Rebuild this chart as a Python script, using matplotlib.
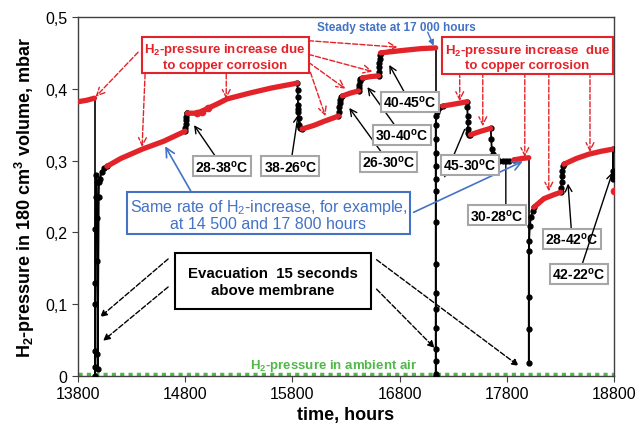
#%% imports

import numpy as np
import matplotlib
matplotlib.use('Agg')
import matplotlib.pyplot as plt

#%% data (time in hours, H2-pressure in mbar)

nan = np.nan

# red parts: slow H2 increase from copper corrosion
red_t = [13800, 13880, 13955, nan,
         14070, 14200, 14400, 14600, 14800, nan,
         14820, 14912, 15000, 15100, 15193, 15400, 15600, 15847, nan,
         15890, 16000, 16100, 16230, nan,
         16267, 16340, 16417, nan,
         16454, 16530, 16604, nan,
         16622, 16800, 17000, 17137, nan,
         17202, 17320, 17430, nan,
         17460, 17560, 17650, nan,
         17865, 17940, 18005, nan,
         18053, 18146, 18230, 18305, nan,
         18333, 18450, 18566, 18680, 18790]
red_p = [0.382, 0.384, 0.387, nan,
         0.292, 0.303, 0.316, 0.327, 0.341, nan,
         0.366, 0.366, 0.372, 0.379, 0.386, 0.394, 0.401, 0.408, nan,
         0.344, 0.349, 0.355, 0.362, nan,
         0.390, 0.394, 0.397, nan,
         0.415, 0.417, 0.418, nan,
         0.450, 0.453, 0.456, 0.457, nan,
         0.376, 0.379, 0.382, nan,
         0.336, 0.341, 0.345, nan,
         0.301, 0.303, 0.304, nan,
         0.235, 0.247, 0.252, 0.256, nan,
         0.295, 0.303, 0.309, 0.313, 0.316]

# single red readings (after 14 800 h and at the right edge)
red_dot_t = [14912, 14960, 15010, 18800]
red_dot_p = [0.366, 0.368, 0.373, 0.257]

# black parts: evacuations and temperature changes
black_t = [13958, 13958, 13960, 13960, 13962, 13962, 13964, 13966,
           13976, 13978, 13980, 13982, 13984, 13994, 13996, 14005, 14020, 14045, 14070, nan,
           14800, 14803, 14806, 14809, 14812, 14815, 14820, nan,
           15847, 15849, 15851, 15853, 15855, 15857, 15859, 15862, 15870, 15890, nan,
           16230, 16233, 16236, 16240, 16244, 16250, 16267, nan,
           16417, 16420, 16424, 16428, 16434, 16454, nan,
           16604, 16606, 16608, 16610, 16613, 16616, 16622, nan,
           17137, 17137, 17137, 17137, 17137, 17137, 17137, 17137, 17137, 17137,
           17137, 17137, 17137, 17137, 17137, 17140, 17145, 17160, 17180, 17202, nan,
           17430, 17432, 17434, 17436, 17438, 17440, 17445, 17460, nan,
           17650, 17655, 17660, 17670, 17685, 17705, 17730, 17760, 17790, 17820, 17865, nan,
           18005, 18005, 18005, 18005, 18008, 18015, 18025, 18040, 18053, nan,
           18305, 18308, 18311, 18314, 18318, 18325, 18333, nan,
           18790, 18790, 18792, 18795]
black_p = [0.000, 0.012, 0.035, 0.100, 0.130, 0.205, 0.250, 0.280,
           0.270, 0.220, 0.160, 0.030, 0.010, 0.250, 0.270, 0.274, 0.284, 0.290, 0.292, nan,
           0.341, 0.346, 0.351, 0.356, 0.361, 0.366, 0.366, nan,
           0.408, 0.398, 0.388, 0.378, 0.372, 0.368, 0.360, 0.350, 0.345, 0.344, nan,
           0.362, 0.368, 0.374, 0.380, 0.385, 0.389, 0.390, nan,
           0.397, 0.401, 0.406, 0.411, 0.414, 0.415, nan,
           0.418, 0.424, 0.430, 0.436, 0.442, 0.447, 0.450, nan,
           0.000, 0.003, 0.021, 0.038, 0.067, 0.093, 0.116, 0.156, 0.214, 0.258,
           0.274, 0.292, 0.310, 0.330, 0.350, 0.362, 0.368, 0.372, 0.375, 0.376, nan,
           0.382, 0.375, 0.362, 0.354, 0.344, 0.338, 0.336, 0.336, nan,
           0.345, 0.330, 0.316, 0.309, 0.305, 0.302, 0.300, 0.300, 0.299, 0.299, 0.301, nan,
           0.018, 0.065, 0.110, 0.174, 0.188, 0.209, 0.221, 0.230, 0.235, nan,
           0.256, 0.262, 0.270, 0.278, 0.286, 0.292, 0.295, nan,
           0.316, 0.286, 0.279, 0.274]

# thin drops when the volume was opened
drop_t = [13955, 13955, nan, 17137, 17137, nan, 18005, 18005, nan, 18790, 18790]
drop_p = [0.387, 0.000, nan, 0.457, 0.000, nan, 0.304, 0.018, nan, 0.316, 0.274]

ambient_p = 0.003

x_ticks = [13800, 14800, 15800, 16800, 17800, 18800]
y_ticks = [0, 0.1, 0.2, 0.3, 0.4, 0.5]
y_labels = ['0', '0,1', '0,2', '0,3', '0,4', '0,5']

RED = '#E3232A'
BLUE = '#4472C4'
GREEN = '#4FB848'

#%% figure

plt.rcParams['font.family'] = ['Liberation Sans', 'DejaVu Sans']
plt.rcParams['mathtext.default'] = 'regular'

fig = plt.figure(figsize=(6.36, 4.27), dpi=100)
ax = fig.add_axes([0.1226, 0.1171, 0.8428, 0.8407])

ax.plot([x_ticks[0], x_ticks[-1]], [ambient_p, ambient_p], ls=(0, (1.2, 1.2)),
        color=GREEN, lw=2.5, zorder=2)
ax.plot(drop_t, drop_p, color='black', lw=1.2, zorder=3)
ax.plot(black_t, black_p, '-o', color='black', lw=1.3, ms=3.5, zorder=4)
ax.plot(red_t, red_p, '-', color=RED, lw=3.8, zorder=5, solid_capstyle='round')
ax.plot(red_dot_t, red_dot_p, 'o', color=RED, ms=4.5, zorder=5)

ax.set_xlim(13800, 18800)
ax.set_ylim(0, 0.5)
ax.set_xticks(x_ticks)
ax.set_xticklabels([str(v) for v in x_ticks])
ax.set_yticks(y_ticks)
ax.set_yticklabels(y_labels)
ax.tick_params(labelsize=11.5, direction='out', length=4, color='#404040')
for s in ax.spines.values():
    s.set_color('#404040')
    s.set_linewidth(1)

ax.set_xlabel('time, hours', fontsize=13, fontweight='bold', labelpad=3)
ax.set_ylabel('H$_2$-pressure in 180 cm$^3$ volume, mbar', fontsize=13,
              fontweight='bold', labelpad=6)

#%% red corrosion notes

box_red = dict(boxstyle='square,pad=0.2', fc='white', ec=RED, lw=1.5)
red_arrow = dict(arrowstyle='->', color=RED, ls='--', lw=1, shrinkA=0, shrinkB=0,
                 mutation_scale=14)

ax.text(15174, 0.4457, 'H$_2$-pressure increase due\nto copper corrosion',
        ha='center', va='center', fontsize=9.5, fontweight='bold', color=RED,
        bbox=box_red, zorder=8, linespacing=1.15)
ax.text(17992, 0.445, 'H$_2$-pressure increase  due\nto copper corrosion',
        ha='center', va='center', fontsize=9.5, fontweight='bold', color=RED,
        bbox=box_red, zorder=8, linespacing=1.15)

left_arrows = [((14361, 0.451), (13965, 0.389)),
               ((14426, 0.421), (14398, 0.319)),
               ((15183, 0.421), (15183, 0.386)),
               ((15950, 0.467), (16781, 0.458)),
               ((15950, 0.448), (16548, 0.424)),
               ((15950, 0.437), (16295, 0.400)),
               ((15968, 0.423), (16108, 0.362))]
for start, end in left_arrows:
    ax.annotate('', xy=end, xytext=start, arrowprops=red_arrow, zorder=6)

for t_a, p_end in [(17361, 0.383), (17576, 0.348), (17968, 0.305),
                   (18192, 0.257), (18576, 0.312)]:
    ax.annotate('', xy=(t_a, p_end), xytext=(t_a, 0.423), arrowprops=red_arrow,
                zorder=6)

#%% steady state

ax.text(16772, 0.486, 'Steady state at 17 000 hours', ha='center', va='center',
        fontsize=8.5, fontweight='bold', color=BLUE, zorder=8)
ax.annotate('', xy=(17118, 0.460), xytext=(17062, 0.479),
            arrowprops=dict(arrowstyle='-|>', color=BLUE, lw=1, shrinkA=0,
                            shrinkB=0, mutation_scale=8))

#%% temperature labels

box_grey = dict(boxstyle='square,pad=0.15', fc='white', ec='#A6A6A6', lw=1.5)
black_arrow = dict(arrowstyle='->', color='black', lw=1, shrinkA=0, shrinkB=1,
                   mutation_scale=12)

temp_labels = [('28-38', (15146, 0.292), (14875, 0.351)),
               ('38-26', (15781, 0.292), (15856, 0.366)),
               ('26-30', (16697, 0.298), (16323, 0.375)),
               ('30-40', (16819, 0.336), (16492, 0.404)),
               ('40-45', (16894, 0.382), (16697, 0.435)),
               ('28-42', (18408, 0.191), (18370, 0.270)),
               ('42-22', (18473, 0.142), (18791, 0.286))]
for lab, pos, tip in temp_labels:
    ax.annotate(lab + '$^{o}$C', xy=tip, xytext=pos, ha='center', va='center',
                fontsize=10, fontweight='bold', bbox=box_grey,
                arrowprops=black_arrow, zorder=9)

# plain leader lines behind the boxes
ax.annotate('', xy=(17417, 0.347), xytext=(17211, 0.274),
            arrowprops=dict(arrowstyle='-', color='black', lw=1), zorder=6)
ax.annotate('', xy=(17791, 0.299), xytext=(17791, 0.225),
            arrowprops=dict(arrowstyle='-', color='black', lw=1), zorder=6)
ax.text(17454, 0.294, '45-30$^{o}$C', ha='center', va='center', fontsize=10,
        fontweight='bold', bbox=box_grey, zorder=9)
ax.text(17706, 0.224, '30-28$^{o}$C', ha='center', va='center', fontsize=10,
        fontweight='bold', bbox=box_grey, zorder=9)

#%% same rate note

ax.text(15576, 0.2255, 'Same rate of H$_2$-increase, for example,\nat 14 500 and 17 800 hours',
        ha='center', va='center', fontsize=11.5, color=BLUE, zorder=9,
        linespacing=1.05,
        bbox=dict(boxstyle='square,pad=0.15', fc='white', ec=BLUE, lw=1.5))
blue_arrow = dict(arrowstyle='->', color=BLUE, lw=1.2, shrinkA=0, shrinkB=0,
                  mutation_scale=16)
ax.annotate('', xy=(14613, 0.320), xytext=(14866, 0.254), arrowprops=blue_arrow,
            zorder=7)
ax.annotate('', xy=(17950, 0.299), xytext=(16931, 0.228), arrowprops=blue_arrow,
            zorder=7)

#%% evacuation note

ax.text(15618, 0.132, 'Evacuation  15 seconds\nabove membrane', ha='center',
        va='center', fontsize=10.8, fontweight='bold', zorder=9, linespacing=1.25,
        bbox=dict(boxstyle='square,pad=0.85', fc='white', ec='black', lw=1.5))
evac_arrow = dict(arrowstyle='-|>', color='black', ls='--', lw=1, shrinkA=0,
                  shrinkB=0, mutation_scale=10)
for start, end in [((14641, 0.163), (14006, 0.082)),
                   ((14641, 0.124), (14034, 0.049)),
                   ((16585, 0.162), (17912, 0.014)),
                   ((16585, 0.121), (17127, 0.039))]:
    ax.annotate('', xy=end, xytext=start, arrowprops=evac_arrow, zorder=6)

ax.text(16183, 0.016, 'H$_2$-pressure in ambient air', ha='center', va='center',
        fontsize=9.5, fontweight='bold', color=GREEN, zorder=9)

fig.savefig('out.png', dpi=100)
